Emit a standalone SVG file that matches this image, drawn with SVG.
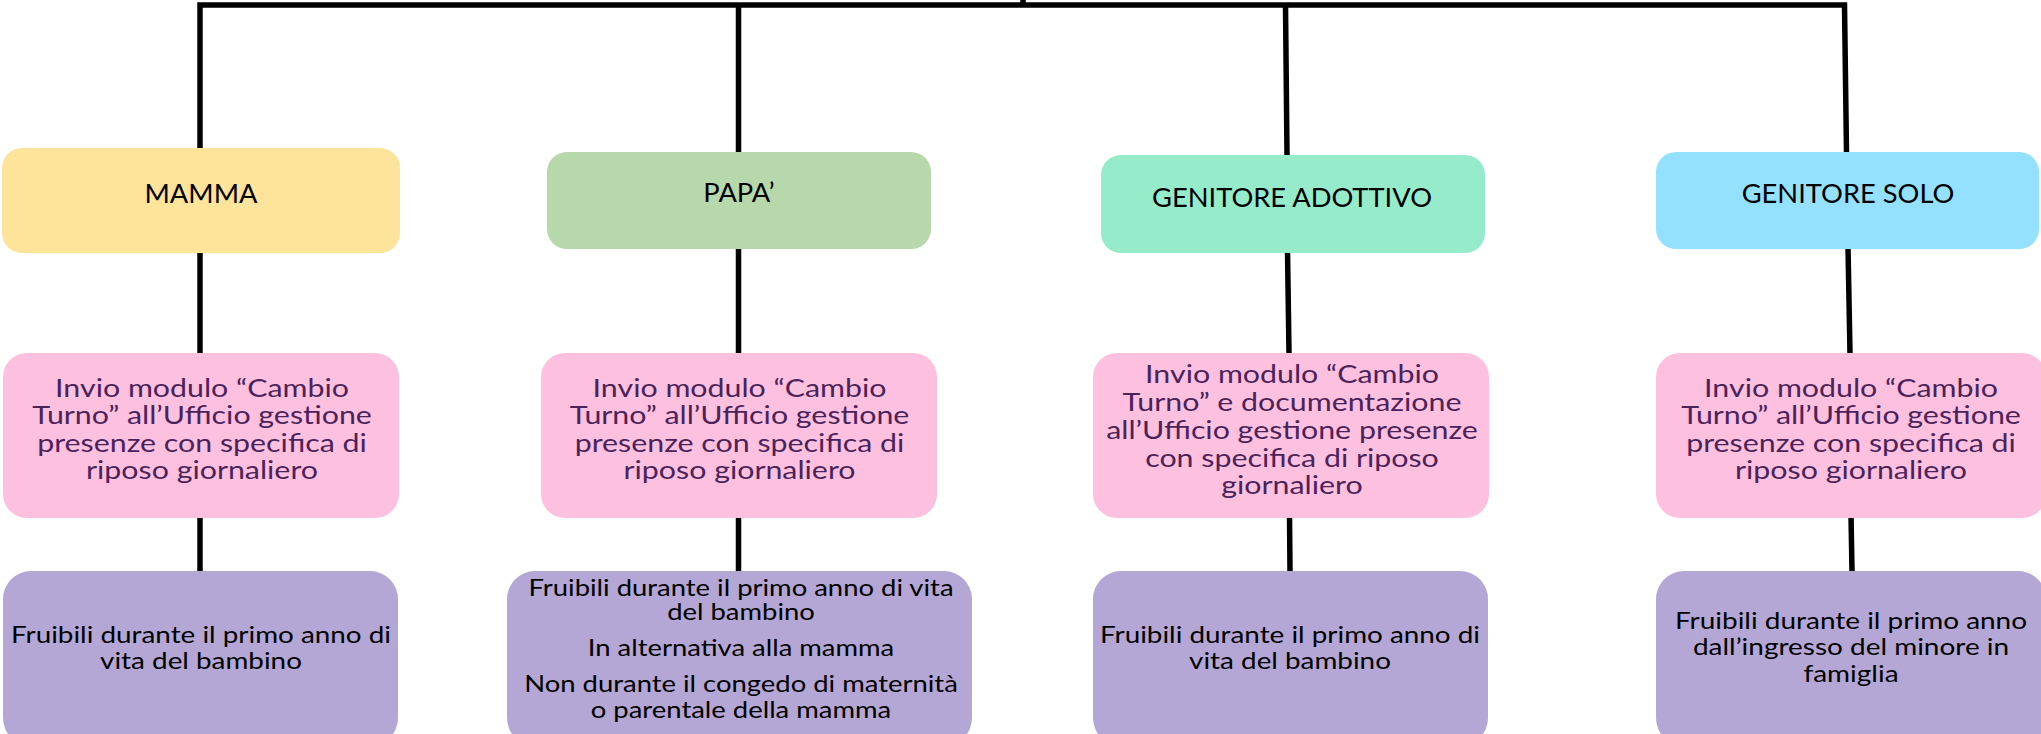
<svg xmlns="http://www.w3.org/2000/svg" width="2041" height="734" viewBox="0 0 2041 734">
<style>
  .conn { fill: none; stroke: #000; stroke-width: 5.5; stroke-linejoin: miter; stroke-linecap: butt; }
  .box { stroke: none; }
  .hdr { font-family: Lato, "Noto Sans", sans-serif; font-size: 26px; fill: #000; text-anchor: middle; }
  .pk { font-family: Lato, "Noto Sans", sans-serif; font-size: 25.5px; fill: #4a235a; text-anchor: middle; }
  .pu { font-family: Lato, "Noto Sans", sans-serif; font-size: 24px; fill: #000; text-anchor: middle; }
  .pu2 { font-family: Lato, "Noto Sans", sans-serif; font-size: 22.5px; fill: #000; text-anchor: middle; }
  .pu3 { font-family: Lato, "Noto Sans", sans-serif; font-size: 23.5px; fill: #000; text-anchor: middle; }
</style>
<rect width="2041" height="734" fill="#ffffff"/>
<g id="connectors">
  <path class="conn" d="M200,150 L200,5 L1844.5,5 L1846.5,153"/>
  <path class="conn" d="M1023,0 L1023,5"/>
  <path class="conn" d="M738.5,5 L738.5,571"/>
  <path class="conn" d="M200,250 L200,571"/>
  <path class="conn" d="M1285.5,5 L1287,155 M1287.5,250 L1289,353 M1289.5,515 L1290,571"/>
  <path class="conn" d="M1848,247 L1850,353 M1851,515 L1852,571"/>
</g>
<g id="mamma">
  <rect class="box" x="2" y="148" width="398" height="105" rx="20" fill="#fee39a"/>
  <text class="hdr" transform="translate(201,203) scale(1.05,1)">MAMMA</text>
</g>
<g id="papa">
  <rect class="box" x="547" y="152" width="384" height="97" rx="20" fill="#b7d8ab"/>
  <text class="hdr" transform="translate(739,202) scale(1.05,1)">PAPA’</text>
</g>
<g id="adottivo">
  <rect class="box" x="1101" y="155" width="384" height="98" rx="20" fill="#96ebcb"/>
  <text class="hdr" transform="translate(1292,207) scale(1.05,1)">GENITORE ADOTTIVO</text>
</g>
<g id="solo">
  <rect class="box" x="1656" y="152" width="383" height="97" rx="20" fill="#94e0ff"/>
  <text class="hdr" transform="translate(1848,203) scale(1.05,1)">GENITORE SOLO</text>
</g>
<g id="mamma-invio">
  <rect class="box" x="3" y="353" width="396" height="165" rx="24" fill="#fec0df"/>
  <g transform="translate(202,0) scale(1.19,1)">
    <text class="pk" x="0" y="397">Invio modulo “Cambio</text>
    <text class="pk" x="0" y="424.5">Turno” all’Ufficio gestione</text>
    <text class="pk" x="0" y="452">presenze con specifica di</text>
    <text class="pk" x="0" y="479.5">riposo giornaliero</text>
  </g>
</g>
<g id="papa-invio">
  <rect class="box" x="541" y="353" width="396" height="165" rx="24" fill="#fec0df"/>
  <g transform="translate(739.5,0) scale(1.19,1)">
    <text class="pk" x="0" y="397">Invio modulo “Cambio</text>
    <text class="pk" x="0" y="424.5">Turno” all’Ufficio gestione</text>
    <text class="pk" x="0" y="452">presenze con specifica di</text>
    <text class="pk" x="0" y="479.5">riposo giornaliero</text>
  </g>
</g>
<g id="adottivo-invio">
  <rect class="box" x="1093" y="353" width="396" height="165" rx="24" fill="#fec0df"/>
  <g transform="translate(1292,0) scale(1.19,1)">
    <text class="pk" x="0" y="383">Invio modulo “Cambio</text>
    <text class="pk" x="0" y="411">Turno” e documentazione</text>
    <text class="pk" x="0" y="439">all’Ufficio gestione presenze</text>
    <text class="pk" x="0" y="467">con specifica di riposo</text>
    <text class="pk" x="0" y="494.5">giornaliero</text>
  </g>
</g>
<g id="solo-invio">
  <rect class="box" x="1656" y="353" width="390" height="165" rx="24" fill="#fec0df"/>
  <g transform="translate(1851,0) scale(1.19,1)">
    <text class="pk" x="0" y="397">Invio modulo “Cambio</text>
    <text class="pk" x="0" y="424.5">Turno” all’Ufficio gestione</text>
    <text class="pk" x="0" y="452">presenze con specifica di</text>
    <text class="pk" x="0" y="479.5">riposo giornaliero</text>
  </g>
</g>
<g id="mamma-fruibili">
  <rect class="box" x="3" y="571" width="395" height="175" rx="28" fill="#b4a7d6"/>
  <g transform="translate(201,0) scale(1.16,1)">
    <text class="pu" x="0" y="643">Fruibili durante il primo anno di</text>
    <text class="pu" x="0" y="669">vita del bambino</text>
  </g>
</g>
<g id="papa-fruibili">
  <rect class="box" x="507" y="571" width="465" height="175" rx="28" fill="#b4a7d6"/>
  <g transform="translate(741,0) scale(1.22,1)">
    <text class="pu2" x="0" y="596">Fruibili durante il primo anno di vita</text>
    <text class="pu2" x="0" y="620">del bambino</text>
    <text class="pu2" x="0" y="656">In alternativa alla mamma</text>
    <text class="pu2" x="0" y="692.5">Non durante il congedo di maternità</text>
    <text class="pu2" x="0" y="718">o parentale della mamma</text>
  </g>
</g>
<g id="adottivo-fruibili">
  <rect class="box" x="1093" y="571" width="395" height="175" rx="28" fill="#b4a7d6"/>
  <g transform="translate(1290,0) scale(1.16,1)">
    <text class="pu" x="0" y="643">Fruibili durante il primo anno di</text>
    <text class="pu" x="0" y="669">vita del bambino</text>
  </g>
</g>
<g id="solo-fruibili">
  <rect class="box" x="1656" y="571" width="390" height="175" rx="28" fill="#b4a7d6"/>
  <g transform="translate(1851,0) scale(1.19,1)">
    <text class="pu3" x="0" y="629">Fruibili durante il primo anno</text>
    <text class="pu3" x="0" y="655.5">dall’ingresso del minore in</text>
    <text class="pu3" x="0" y="682">famiglia</text>
  </g>
</g>
</svg>
